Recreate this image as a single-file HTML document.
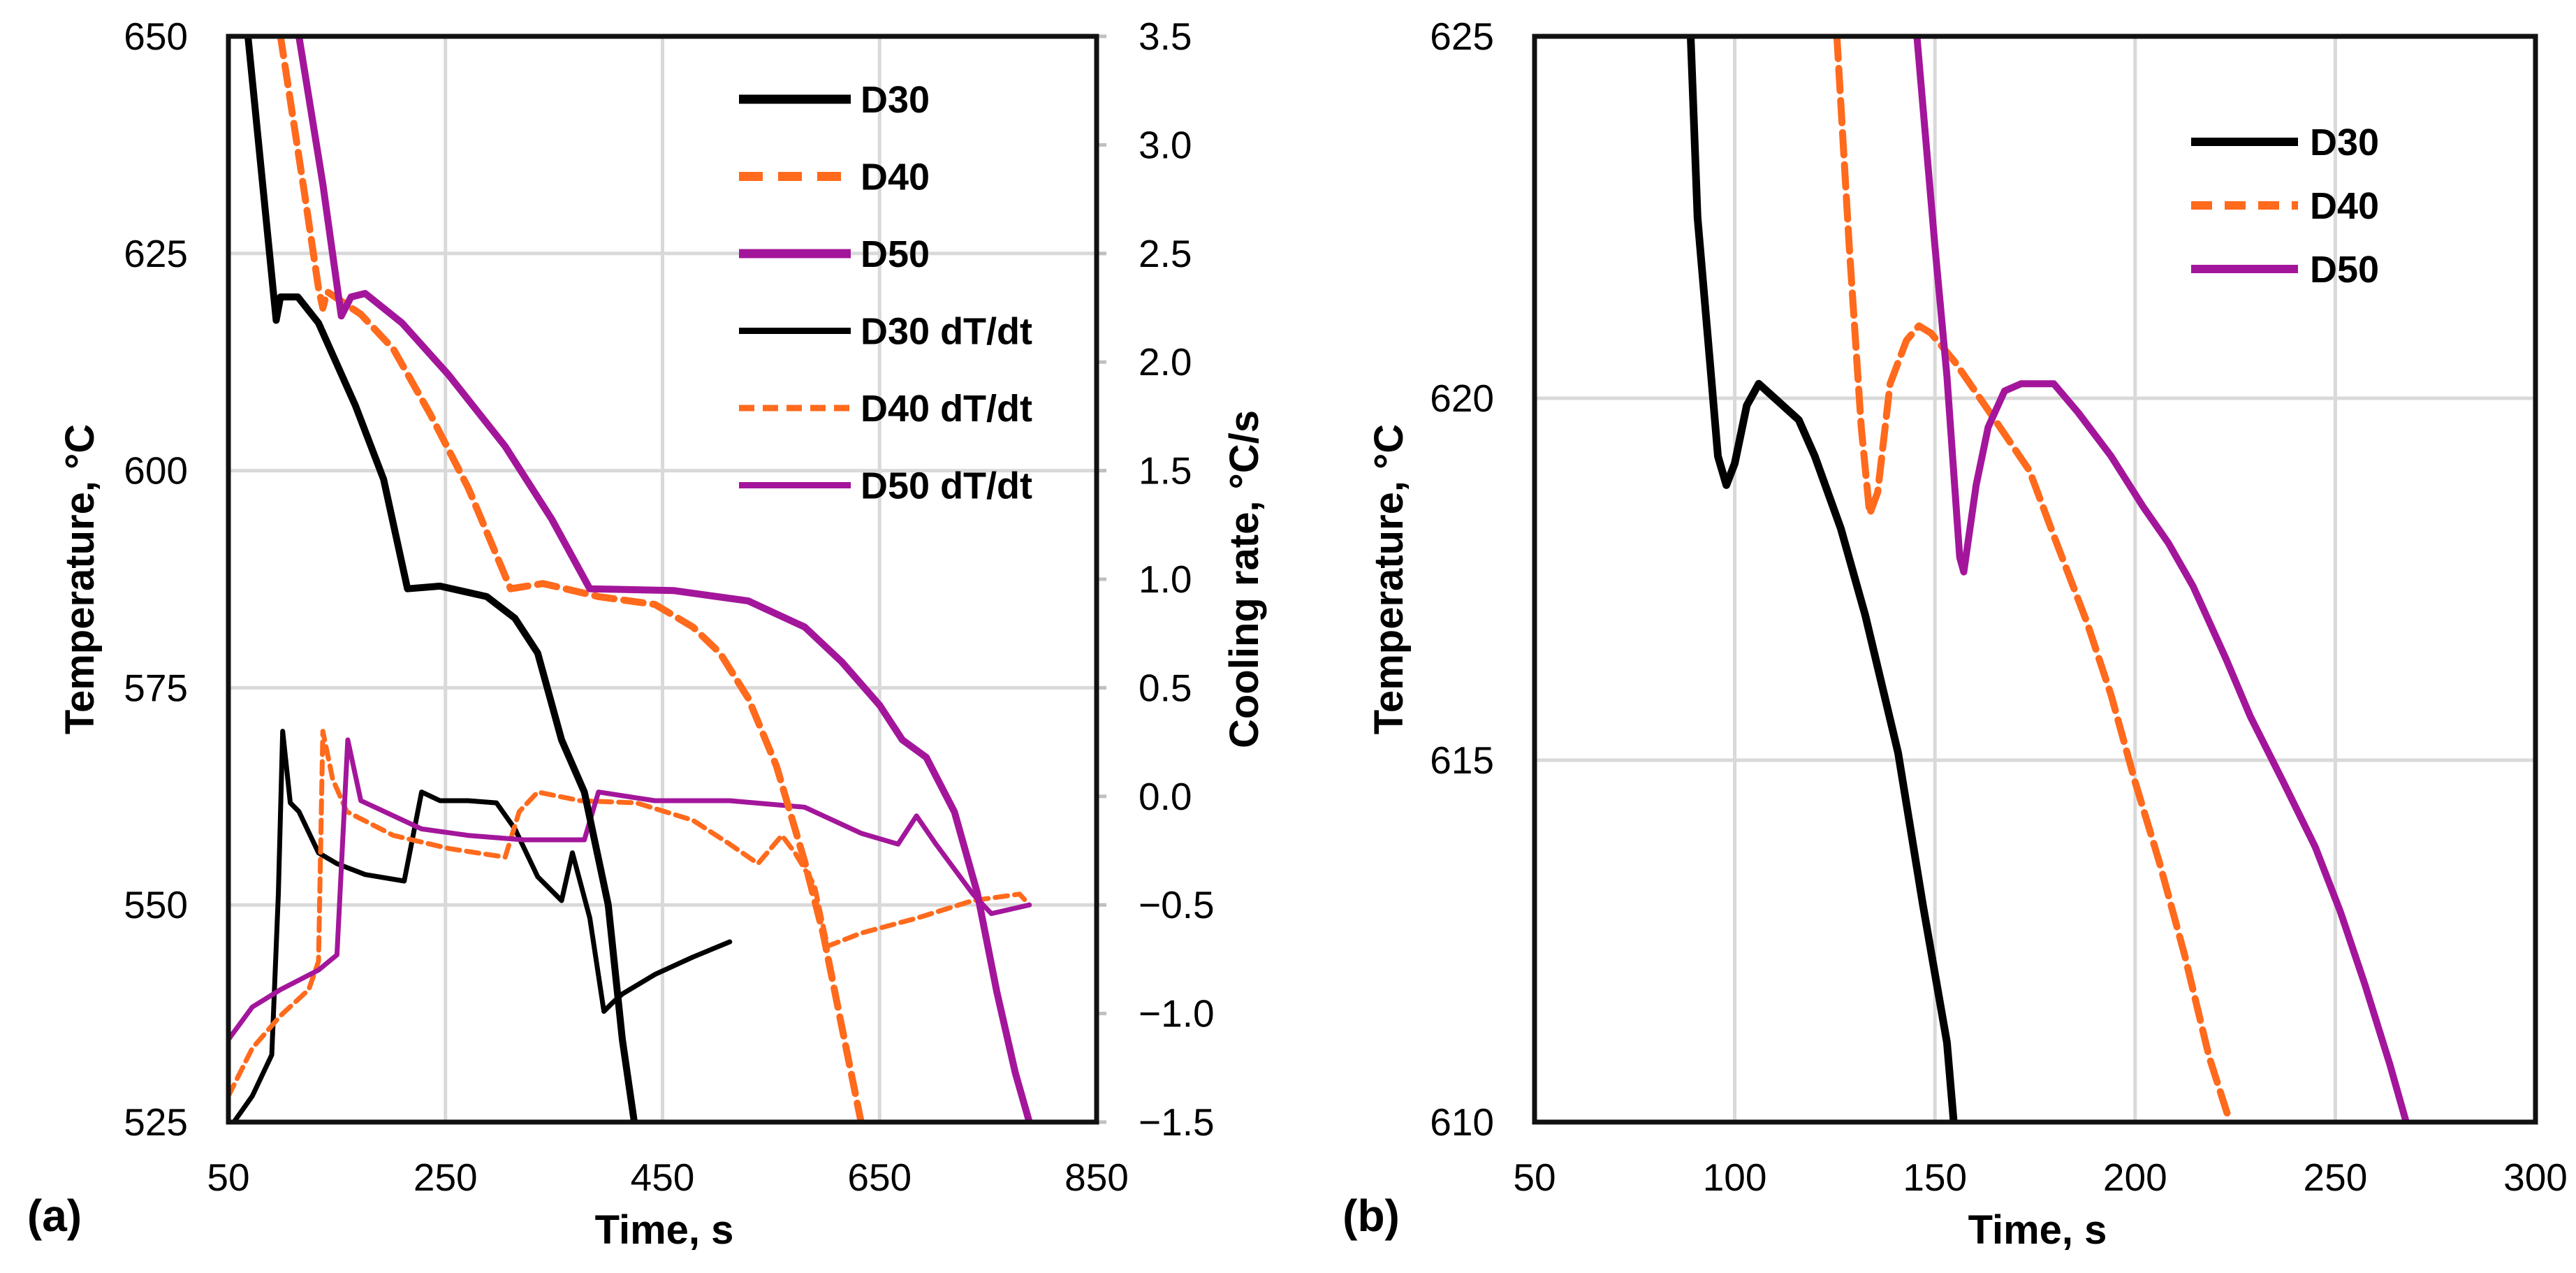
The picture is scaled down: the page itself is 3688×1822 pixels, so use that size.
<!DOCTYPE html>
<html><head><meta charset="utf-8">
<style>
html,body{margin:0;padding:0;background:#fff;}
svg{display:block;font-family:"Liberation Sans",sans-serif;}
</style></head>
<body>
<svg id="chart" width="3688" height="1822" viewBox="0 0 3688 1822" xmlns="http://www.w3.org/2000/svg">
<g id="pa"></g>
<g id="pb"></g>
</svg>
<script>
// ---- Panel (a) data ----
const a_xTicks = [50,250,450,650,850];
const a_yTicks = [525,550,575,600,625,650];
const a_y2Ticks = [-1.5,-1.0,-0.5,0.0,0.5,1.0,1.5,2.0,2.5,3.0,3.5];
const a_y2Labels = ["\u22121.5","\u22121.0","\u22120.5","0.0","0.5","1.0","1.5","2.0","2.5","3.0","3.5"];
const d30_t = [68,94,98,114,133,167,193,215,245,288,314,335,357,378,400,413,424];
const d30_T = [650,617.3,620,620,617,607.5,599,586.4,586.7,585.5,583,579,569,563,550,534.5,525];
const d40_t = [98,120,133,137,141,172,202,236,271,310,340,391,443,478,503,529,555,581,598,616,633];
const d40_T = [650,632,621,618.7,620.6,618,614,606.5,598,586.4,587,585.5,584.6,582,579,573.8,566,555,546.7,535.5,525];
const d50_t = [115,137,154,163,176,210,253,305,348,383,460,529,581,615,650,671,693,719,740,758,775,788];
const d50_T = [650,633,617.8,620,620.4,617,611,602.8,594.4,586.4,586.2,585,582,578,573,569,567,560.7,551.4,540,530.7,525];
const d30r_t = [55,72,90,96,100,107,115,133,150,176,212,228,245,271,297,314,335,357,367,383,396,404,413,443,478,512];
const d30r_v = [-1.5,-1.38,-1.19,-0.45,0.30,-0.03,-0.07,-0.26,-0.31,-0.36,-0.39,0.02,-0.02,-0.02,-0.03,-0.15,-0.37,-0.48,-0.26,-0.56,-0.99,-0.95,-0.91,-0.82,-0.74,-0.67];
const d40r_t = [50,72,98,124,133,137,146,159,202,253,305,318,335,374,426,478,512,538,560,572,590,602,633,685,736,779,788];
const d40r_v = [-1.38,-1.16,-1.01,-0.89,-0.76,0.30,0.08,-0.07,-0.18,-0.24,-0.28,-0.07,0.02,-0.02,-0.03,-0.11,-0.22,-0.31,-0.18,-0.26,-0.41,-0.69,-0.63,-0.56,-0.48,-0.45,-0.5];
const d50r_t = [50,72,98,133,150,160,172,185,228,271,322,378,391,443,512,581,633,667,684,702,736,753,788];
const d50r_v = [-1.12,-0.97,-0.89,-0.80,-0.73,0.26,-0.02,-0.05,-0.15,-0.18,-0.2,-0.2,0.02,-0.02,-0.02,-0.05,-0.17,-0.22,-0.09,-0.22,-0.45,-0.54,-0.5];
// ---- Panel (b) data ----
const b_xTicks = [50,100,150,200,250,300];
const b_yTicks = [610,615,620,625];
const b30_t = [89,90.7,93.8,95.8,97.9,100,103,106,110,116,120,126.5,132.6,140.8,147,153,154.7];
const b30_T = [625,622.5,620.5,619.2,618.8,619.1,619.9,620.2,620,619.7,619.2,618.2,617,615.1,613,611.1,610];
const b40_t = [125.5,128.6,131.6,133.7,135.7,138.8,142.9,146,149,155,165,173.6,179.7,188,194,200,206,212.4,218.5,223.7];
const b40_T = [625,622.1,619.6,618.4,618.7,620.2,620.8,621,620.9,620.5,619.7,619,618.1,616.9,615.9,614.7,613.6,612.3,610.9,610];
const b50_t = [145.5,150,153,156.2,157.2,160.3,163.3,167.4,171.5,179.7,185.8,194,202,208.3,214.5,222.7,228.8,237,245,251.3,257.4,263.6,267.7];
const b50_T = [625,622.1,620.3,617.8,617.6,618.8,619.6,620.1,620.2,620.2,619.8,619.2,618.5,618,617.4,616.4,615.6,614.7,613.8,612.9,611.9,610.8,610];

const NS="http://www.w3.org/2000/svg";
const BLACK="#000", ORANGE="#ff6a1c", PURPLE="#a3169b", GRID="#d9d9d9";
function mk(parent,tag,attrs,text){const e=document.createElementNS(NS,tag);for(const k in attrs)e.setAttribute(k,attrs[k]);if(text!==undefined)e.textContent=text;parent.appendChild(e);return e;}
function scale(d0,d1,r0,r1){return v=>r0+(v-d0)/(d1-d0)*(r1-r0);}

function drawPanel(g,o){
  const x=scale(o.xmin,o.xmax,o.L,o.R), y=scale(o.ymin,o.ymax,o.B,o.T);
  o.xTicks.forEach(t=>{ if(t>o.xmin&&t<o.xmax){const l=mk(g,'line',{x1:x(t),x2:x(t),y1:o.T,y2:o.B,stroke:GRID,'stroke-width':5});
    
    }});
  o.yTicks.forEach(t=>{ if(t>o.ymin&&t<o.ymax){const l=mk(g,'line',{x1:o.L,x2:o.R+(o.y2?14:0),y1:y(t),y2:y(t),stroke:GRID,'stroke-width':5});
    
    }});
  o.xTicks.forEach(t=>{const e=mk(g,'text',{x:x(t),y:1704,'font-size':55,'text-anchor':'middle',fill:'#000'},String(t));
    
    });
  o.yTicks.forEach(t=>{const e=mk(g,'text',{x:o.L-58,y:y(t)+19,'font-size':55,'text-anchor':'end',fill:'#000'},String(t));
    
    });
  let y2=null;
  if(o.y2){
    y2=scale(o.y2min,o.y2max,o.B,o.T);
    o.y2Ticks.forEach((t,i)=>{
      const tk=mk(g,'line',{x1:o.R,x2:o.R+14,y1:y2(t),y2:y2(t),stroke:'#bfbfbf','stroke-width':5});
      
      
      const e=mk(g,'text',{x:o.R+60,y:y2(t)+19,'font-size':55,'text-anchor':'start',fill:'#000'},o.y2Labels[i]);
      
      });
  }
  const cid='clip'+o.id;
  const cp=mk(mk(g,'defs',{}),'clipPath',{id:cid});
  mk(cp,'rect',{x:o.L,y:o.T,width:o.R-o.L,height:o.B-o.T});
  const sg=mk(g,'g',{'clip-path':'url(#'+cid+')'});
  o.series.forEach(s=>{
    const ys=s.axis==2?y2:y;
    const pts=s.t.map((t,i)=>x(t).toFixed(1)+','+ys(s.v[i]).toFixed(1)).join(' ');
    const p=mk(sg,'polyline',{points:pts,fill:'none',stroke:s.color,'stroke-width':s.w,'stroke-linejoin':'round','stroke-linecap':'round'});
    if(s.dash)p.setAttribute('stroke-dasharray',s.dash);
    
    
  });
  const fr=mk(g,'rect',{x:o.L,y:o.T,width:o.R-o.L,height:o.B-o.T,fill:'none',stroke:'#111','stroke-width':7});
  
  
  o.legend.items.forEach((it,i)=>{
    const ly=o.legend.y0+i*o.legend.dy;
    const ln=mk(g,'line',{x1:o.legend.x1,x2:o.legend.x2,y1:ly,y2:ly,stroke:it.color,'stroke-width':it.w});
    if(it.dash)ln.setAttribute('stroke-dasharray',it.dash);
    
    
    const tx=mk(g,'text',{x:o.legend.tx,y:ly+19,'font-size':54,'font-weight':'bold',fill:'#000'},it.label);
    
    
  });
}

drawPanel(document.getElementById('pa'),{
  id:'a',L:327,R:1570,T:52,B:1606,xmin:50,xmax:850,ymin:525,ymax:650,
  xTicks:a_xTicks,yTicks:a_yTicks,y2:true,y2min:-1.5,y2max:3.5,y2Ticks:a_y2Ticks,y2Labels:a_y2Labels,
  series:[
    {name:'d30-dtdt-line',t:d30r_t,v:d30r_v,color:BLACK,w:7,axis:2},
    {name:'d40-dtdt-line',t:d40r_t,v:d40r_v,color:ORANGE,w:7,axis:2,dash:'18 10'},
    {name:'d50-dtdt-line',t:d50r_t,v:d50r_v,color:PURPLE,w:7,axis:2},
    {name:'d30-line',t:d30_t,v:d30_T,color:BLACK,w:10},
    {name:'d40-line',t:d40_t,v:d40_T,color:ORANGE,w:10,dash:'28 14'},
    {name:'d50-line',t:d50_t,v:d50_T,color:PURPLE,w:10}
  ],
  legend:{x1:1058,x2:1218,tx:1232,y0:142,dy:110.5,items:[
    {label:'D30',color:BLACK,w:13},{label:'D40',color:ORANGE,w:13,dash:'34 22'},{label:'D50',color:PURPLE,w:13},
    {label:'D30 dT/dt',color:BLACK,w:9},{label:'D40 dT/dt',color:ORANGE,w:9,dash:'22 12'},{label:'D50 dT/dt',color:PURPLE,w:9}]}
});
drawPanel(document.getElementById('pb'),{
  id:'b',L:2197,R:3630,T:52,B:1606,xmin:50,xmax:300,ymin:610,ymax:625,
  xTicks:b_xTicks,yTicks:b_yTicks,y2:false,
  series:[
    {name:'d30-line',t:b30_t,v:b30_T,color:BLACK,w:11},
    {name:'d40-line',t:b40_t,v:b40_T,color:ORANGE,w:10,dash:'32 14'},
    {name:'d50-line',t:b50_t,v:b50_T,color:PURPLE,w:10}
  ],
  legend:{x1:3137,x2:3290,tx:3307,y0:203,dy:91,items:[
    {label:'D30',color:BLACK,w:12},{label:'D40',color:ORANGE,w:12,dash:'30 18'},{label:'D50',color:PURPLE,w:12}]}
});

const svg=document.getElementById('chart');
function title(txt,x,y,rot,name,size){
  const e=mk(svg,'text',{x:x,y:y,'font-size':size||58,'font-weight':'bold','text-anchor':'middle',fill:'#000'},txt);
  if(rot)e.setAttribute('transform','rotate(-90 '+x+' '+y+')');
  
  
}
title('Temperature, \u00B0C',134,829,true,'y-axis-title-a');
title('Cooling rate, \u00B0C/s',1801,829,true,'y2-axis-title-a');
title('Time, s',951,1780,false,'x-axis-title-a');
title('(a)',78,1762,false,'panel-label-a',64);
title('Temperature, \u00B0C',2008,829,true,'y-axis-title-b');
title('Time, s',2917,1780,false,'x-axis-title-b');
title('(b)',1963,1762,false,'panel-label-b',64);
</script>
</body></html>
